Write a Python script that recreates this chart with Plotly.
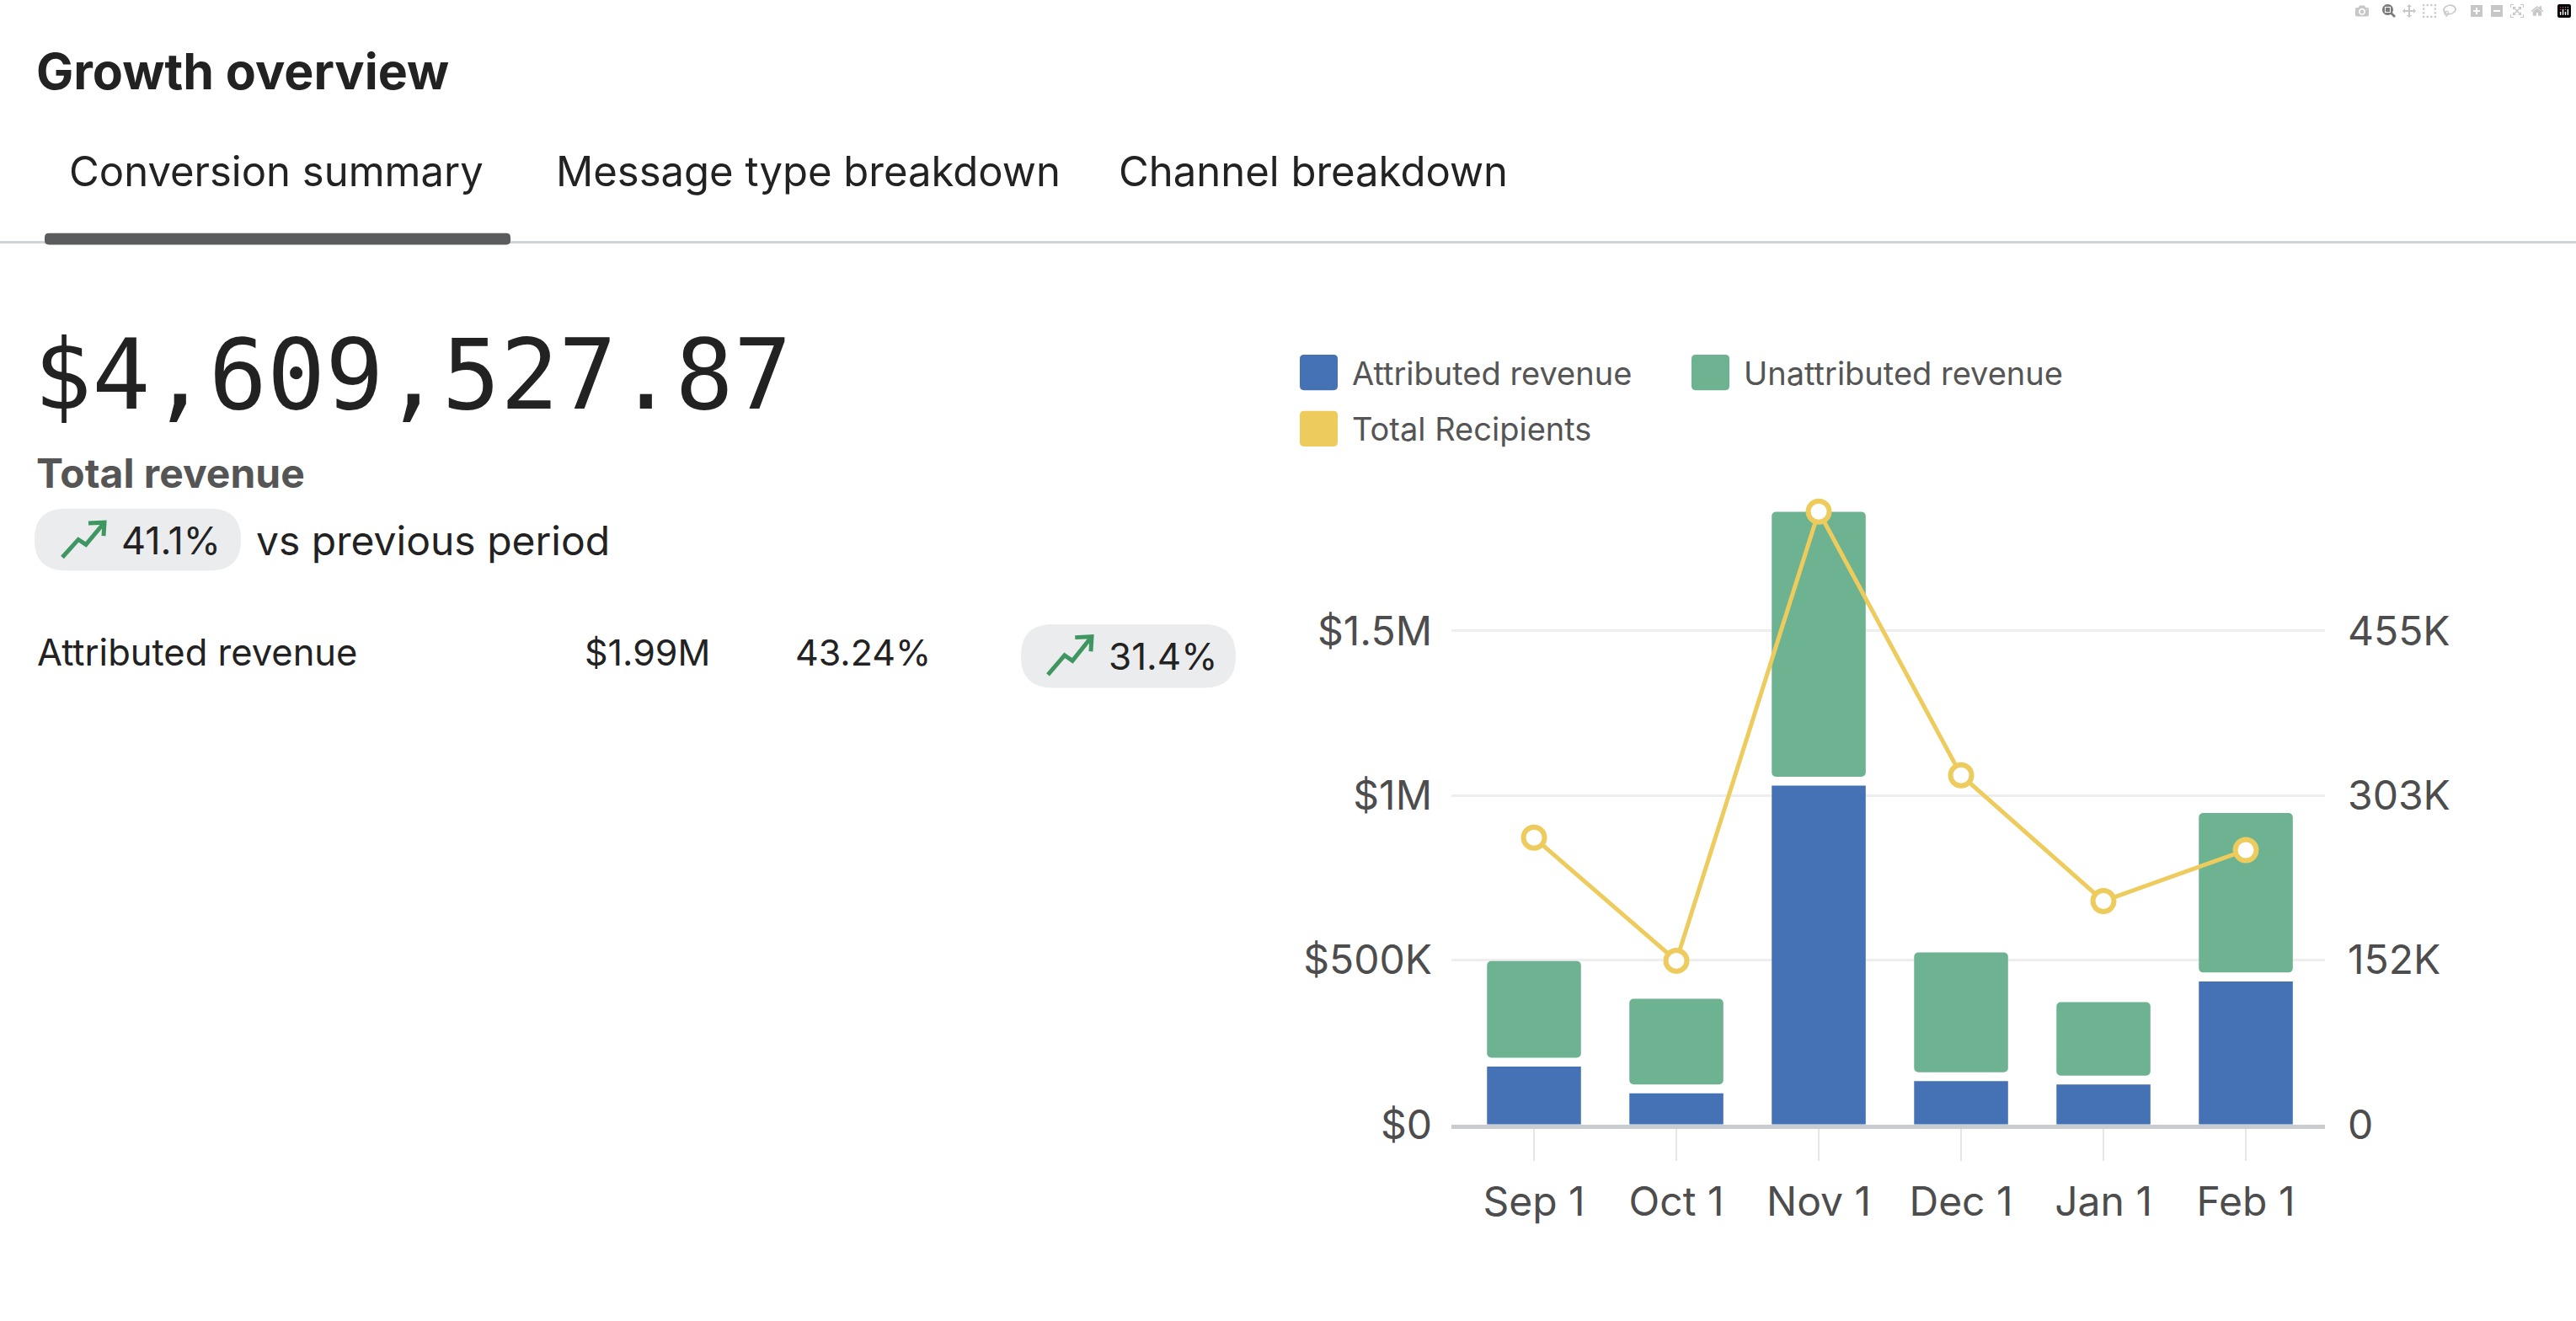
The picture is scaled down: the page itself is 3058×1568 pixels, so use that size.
import plotly.graph_objects as go

W, H = 3058, 1568

# ---------------- data ----------------
months = ["Sep 1", "Oct 1", "Nov 1", "Dec 1", "Jan 1", "Feb 1"]
attributed = [176000, 95000, 1030000, 132000, 122000, 435000]
unattributed = [321000, 287000, 832000, 391000, 250000, 512000]
recipients = [264500, 151000, 565000, 322000, 206000, 253000]

left_tickvals = [0, 500000, 1000000, 1500000]
left_ticktext = ["$0", "$500K", "$1M", "$1.5M"]
right_tickvals = [0, 151667, 303333, 455000]
right_ticktext = ["0", "152K", "303K", "455K"]

series_names = ["Attributed revenue", "Unattributed revenue", "Total Recipients"]
tabs = ["Conversion summary", "Message type breakdown", "Channel breakdown"]
title_text = "Growth overview"
total_value_text = "$4,609,527.87"
total_label = "Total revenue"
total_change = "41.1%"
vs_text = "vs previous period"
row_label = "Attributed revenue"
row_value = "$1.99M"
row_share = "43.24%"
row_change = "31.4%"

# ---------------- style ----------------
BLUE = "#4472B4"
GREEN = "#6DB391"
YELLOW = "#EDCB5C"
UP_GREEN = "#3F9660"
TXT = "#222222"
TXT2 = "#4D4D4D"
SANS = "Inter, Roboto, sans-serif"
MONO = "DejaVu Sans Mono, monospace"
GAP = 27000  # visual gap between stacked segments

BASE_Y = 1360
TOP_Y = 600
PX_PER_M = 398.0
y_top = (BASE_Y - TOP_Y) / PX_PER_M * 1e6
y2_top = y_top * 303333.3 / 1e6


def px(x):
    return x / W


def py(y):
    return 1 - y / H


def rrect(x0, y0, x1, y1, r):
    pts = [
        ("M", [(x0 + r, y0)]), ("L", [(x1 - r, y0)]), ("Q", [(x1, y0), (x1, y0 + r)]),
        ("L", [(x1, y1 - r)]), ("Q", [(x1, y1), (x1 - r, y1)]), ("L", [(x0 + r, y1)]),
        ("Q", [(x0, y1), (x0, y1 - r)]), ("L", [(x0, y0 + r)]), ("Q", [(x0, y0), (x0 + r, y0)]),
    ]
    s = ""
    for cmd, ps in pts:
        s += cmd + " " + " ".join(f"{px(a):.6f},{py(b):.6f}" for a, b in ps) + " "
    return s + "Z"


def polyline(points):
    return "M " + " L ".join(f"{px(a):.6f},{py(b):.6f}" for a, b in points)


def trend_icon(x0, y0, x1, y1):
    w, h = x1 - x0, y1 - y0
    rel = [(0.0, 1.0), (0.38, 0.5), (0.56, 0.64), (1.0, 0.02)]
    head = [(0.62, 0.04), (1.0, 0.02), (0.98, 0.4)]
    a = [(x0 + u * w, y0 + v * h) for u, v in rel]
    b = [(x0 + u * w, y0 + v * h) for u, v in head]
    return [polyline(a), polyline(b)]


fig = go.Figure()
fig.add_trace(go.Bar(x=months, y=attributed, name=series_names[0], marker=dict(color=BLUE, line=dict(width=0)),
                     width=0.66, showlegend=False))
fig.add_trace(go.Bar(x=months, y=[u - GAP for u in unattributed], base=[a + GAP for a in attributed],
                     name=series_names[1], marker=dict(color=GREEN, line=dict(width=0)), width=0.66, showlegend=False))
fig.add_trace(go.Scatter(x=months, y=recipients, name=series_names[2], yaxis="y2", mode="lines+markers",
                         line=dict(color=YELLOW, width=5),
                         marker=dict(size=25, color="white", line=dict(color=YELLOW, width=6)), showlegend=False))

shapes = []
# tab bar
shapes.append(dict(type="line", xref="paper", yref="paper", x0=0, x1=1, y0=py(293), y1=py(293),
                   line=dict(color="#D0D4D8", width=3)))
shapes.append(dict(type="path", xref="paper", yref="paper", path=rrect(53, 282, 606, 296, 5),
                   fillcolor="#5A5C5E", line=dict(width=0)))
# pills
shapes.append(dict(type="path", xref="paper", yref="paper", path=rrect(41, 615, 286, 690, 37),
                   fillcolor="#EBECEE", line=dict(width=0), layer="below"))
shapes.append(dict(type="path", xref="paper", yref="paper", path=rrect(1212, 755, 1467, 832, 38),
                   fillcolor="#EBECEE", line=dict(width=0), layer="below"))
for path in trend_icon(74, 631, 124, 674) + trend_icon(1244, 769, 1296, 816):
    shapes.append(dict(type="path", xref="paper", yref="paper", path=path,
                       line=dict(color=UP_GREEN, width=5)))
# legend swatches
for (x0, y0), col in zip([(1543, 429), (2008, 429), (1543, 497)], [BLUE, GREEN, YELLOW]):
    shapes.append(dict(type="path", xref="paper", yref="paper", path=rrect(x0, y0, x0 + 45, y0 + 43, 5),
                       fillcolor=col, line=dict(width=0)))

ann = []


def text(x, y, s, size, color=TXT, family=SANS, bold=False):
    ann.append(dict(x=px(x), y=py(y), xref="paper", yref="paper", xanchor="left", yanchor="middle",
                    showarrow=False, text=(f"<b>{s}</b>" if bold else s),
                    font=dict(size=size, color=color, family=family)))


text(41, 86, title_text, 59, bold=True)
for x, s in zip([80, 658, 1326], tabs):
    text(x, 207, s, 49)
text(38, 453, total_value_text, 115, family=MONO)
text(41, 572, total_label, 48, color="#555555", bold=True)
text(142, 654, total_change, 45)
text(302, 654, vs_text, 48)
text(42, 789, row_label, 43.5)
text(692, 789, row_value, 43)
text(942, 789, row_share, 43)
text(1314, 794, row_change, 44)
for (x, y), s in zip([(1603, 451), (2068, 451), (1603, 519)], series_names):
    text(x, y, s, 38, color="#555555")

fig.update_layout(
    width=W, height=H, margin=dict(l=0, r=0, t=0, b=0),
    paper_bgcolor="white", plot_bgcolor="white",
    barmode="overlay", barcornerradius=5, showlegend=False,
    font=dict(family=SANS, color=TXT2),
    shapes=shapes, annotations=ann,
    xaxis=dict(domain=[px(1723), px(2760)], type="category", range=[-0.58, 5.556],
               showline=True, linecolor="#C9CDD2", linewidth=5, ticks="outside", ticklen=38,
               tickcolor="#E6E6E6", tickwidth=2, tickfont=dict(size=48, color=TXT2),
               showgrid=False, zeroline=False, ticklabelstandoff=8),
    yaxis=dict(domain=[py(BASE_Y), py(TOP_Y)], range=[0, y_top], tickvals=left_tickvals,
               ticktext=left_ticktext, showgrid=True, gridcolor="#EEEEEE", gridwidth=3,
               zeroline=False, tickfont=dict(size=48, color=TXT2), ticklabelstandoff=22),
    yaxis2=dict(overlaying="y", side="right", range=[0, y2_top], tickvals=right_tickvals,
                ticktext=right_ticktext, showgrid=False, zeroline=False,
                tickfont=dict(size=48, color=TXT2), ticklabelstandoff=26),
)

fig.write_html("out.html", post_script="document.body.style.margin='0';")
